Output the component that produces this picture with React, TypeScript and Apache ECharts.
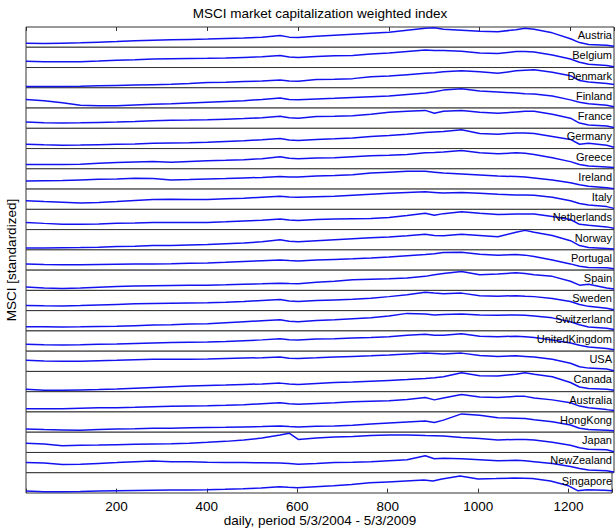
import React, { useEffect, useRef } from "react";
import * as echarts from "echarts";

const titleText = "MSCI market capitalization weighted index";
const xAxisTitle = "daily, period 5/3/2004 - 5/3/2009";
const yAxisTitle = "MSCI [standardized]";

const countries = [
  "Austria", "Belgium", "Denmark", "Finland", "France", "Germany", "Greece", "Ireland",
  "Italy", "Netherlands", "Norway", "Portugal", "Spain", "Sweden", "Switzerland",
  "UnitedKingdom", "USA", "Canada", "Australia", "HongKong", "Japan", "NewZealand", "Singapore",
];

const xTickLabels = [200, 400, 600, 800, 1000, 1200];
const X_MAX = 1296;

const days = [0, 40, 80, 120, 160, 200, 240, 280, 320, 360, 400, 440, 480, 520, 560, 580, 600, 640, 680, 720, 760, 800, 840, 880, 900, 920, 960, 1000, 1040, 1080, 1100, 1120, 1160, 1200, 1220, 1240, 1280, 1296];

const austria = [0.18,0.17,0.19,0.21,0.24,0.27,0.31,0.34,0.36,0.38,0.40,0.43,0.45,0.50,0.58,0.50,0.48,0.55,0.60,0.65,0.70,0.75,0.85,0.95,0.98,0.90,0.85,0.80,0.78,0.88,0.95,0.90,0.72,0.42,0.22,0.12,0.08,0.03];
const belgium = [0.30,0.28,0.27,0.28,0.31,0.35,0.38,0.42,0.43,0.44,0.45,0.47,0.50,0.53,0.60,0.52,0.50,0.55,0.58,0.60,0.68,0.72,0.80,0.88,0.85,0.85,0.82,0.72,0.70,0.80,0.80,0.78,0.62,0.42,0.25,0.15,0.08,0.02];
const denmark = [0.04,0.04,0.05,0.06,0.08,0.10,0.12,0.14,0.16,0.20,0.25,0.27,0.30,0.33,0.38,0.33,0.32,0.40,0.42,0.45,0.55,0.58,0.65,0.72,0.75,0.80,0.85,0.80,0.72,0.85,0.88,0.90,0.78,0.60,0.35,0.28,0.20,0.15];
const finland = [0.42,0.35,0.25,0.12,0.10,0.10,0.14,0.18,0.20,0.24,0.28,0.32,0.36,0.42,0.50,0.42,0.40,0.45,0.48,0.52,0.56,0.60,0.68,0.75,0.82,0.90,0.97,0.85,0.80,0.75,0.72,0.70,0.60,0.40,0.28,0.20,0.12,0.05];
const france = [0.30,0.27,0.25,0.26,0.28,0.30,0.33,0.37,0.39,0.40,0.42,0.45,0.48,0.52,0.60,0.52,0.50,0.58,0.60,0.63,0.70,0.80,0.85,0.90,0.75,0.85,0.90,0.80,0.75,0.82,0.85,0.85,0.70,0.50,0.25,0.15,0.10,0.02];
const germany = [0.20,0.17,0.15,0.16,0.18,0.20,0.22,0.25,0.27,0.28,0.30,0.34,0.38,0.43,0.50,0.42,0.40,0.45,0.48,0.52,0.60,0.65,0.72,0.80,0.83,0.85,0.95,0.75,0.72,0.78,0.78,0.75,0.60,0.45,0.20,0.25,0.15,0.05];
const greece = [0.20,0.20,0.20,0.22,0.26,0.30,0.33,0.35,0.32,0.36,0.40,0.42,0.45,0.50,0.60,0.52,0.50,0.53,0.55,0.60,0.65,0.68,0.72,0.80,0.82,0.85,0.92,0.80,0.75,0.80,0.78,0.72,0.55,0.35,0.20,0.12,0.08,0.05];
const ireland = [0.40,0.41,0.42,0.45,0.48,0.50,0.53,0.52,0.45,0.47,0.50,0.52,0.55,0.58,0.62,0.60,0.60,0.65,0.68,0.72,0.80,0.85,0.90,0.90,0.85,0.80,0.75,0.70,0.65,0.62,0.60,0.55,0.45,0.30,0.20,0.12,0.05,0.00];
const italy = [0.42,0.38,0.35,0.30,0.33,0.38,0.44,0.48,0.50,0.49,0.48,0.52,0.55,0.60,0.65,0.62,0.60,0.63,0.65,0.70,0.75,0.80,0.85,0.88,0.85,0.82,0.85,0.80,0.75,0.72,0.72,0.70,0.60,0.42,0.28,0.20,0.12,0.03];
const netherlands = [0.35,0.30,0.26,0.25,0.27,0.30,0.32,0.35,0.35,0.35,0.35,0.38,0.42,0.46,0.52,0.47,0.45,0.50,0.52,0.54,0.55,0.60,0.70,0.82,0.72,0.80,0.90,0.82,0.75,0.78,0.78,0.78,0.65,0.50,0.25,0.20,0.12,0.05];
const norway = [0.08,0.08,0.09,0.10,0.12,0.15,0.17,0.20,0.21,0.23,0.25,0.29,0.33,0.40,0.50,0.42,0.40,0.45,0.50,0.55,0.60,0.64,0.70,0.78,0.72,0.70,0.78,0.72,0.65,0.88,0.98,0.88,0.72,0.45,0.20,0.10,0.05,0.03];
const portugal = [0.30,0.27,0.25,0.26,0.27,0.28,0.29,0.30,0.31,0.33,0.35,0.38,0.42,0.46,0.50,0.47,0.45,0.50,0.53,0.56,0.60,0.65,0.72,0.78,0.82,0.88,0.90,0.80,0.75,0.78,0.75,0.68,0.50,0.30,0.18,0.12,0.10,0.05];
const spain = [0.15,0.10,0.08,0.10,0.14,0.18,0.20,0.22,0.23,0.24,0.25,0.27,0.30,0.32,0.35,0.33,0.32,0.40,0.45,0.52,0.55,0.58,0.62,0.70,0.78,0.85,0.95,0.78,0.82,0.88,0.85,0.78,0.70,0.45,0.25,0.30,0.10,0.05];
const sweden = [0.25,0.23,0.22,0.24,0.27,0.30,0.33,0.35,0.36,0.37,0.38,0.41,0.45,0.50,0.55,0.48,0.45,0.50,0.53,0.56,0.62,0.70,0.80,0.92,0.88,0.85,0.88,0.75,0.72,0.75,0.72,0.70,0.60,0.45,0.30,0.20,0.10,0.03];
const switzerland = [0.20,0.19,0.18,0.19,0.21,0.22,0.25,0.28,0.30,0.33,0.35,0.40,0.45,0.50,0.55,0.48,0.45,0.52,0.55,0.60,0.65,0.75,0.88,0.85,0.80,0.82,0.85,0.80,0.78,0.80,0.78,0.75,0.65,0.45,0.30,0.18,0.12,0.05];
const unitedKingdom = [0.33,0.31,0.30,0.31,0.33,0.35,0.38,0.40,0.42,0.44,0.45,0.48,0.52,0.56,0.62,0.57,0.55,0.60,0.62,0.65,0.68,0.72,0.80,0.85,0.80,0.80,0.88,0.75,0.72,0.75,0.72,0.68,0.55,0.40,0.28,0.20,0.12,0.05];
const usa = [0.55,0.52,0.50,0.50,0.53,0.55,0.58,0.60,0.60,0.60,0.62,0.65,0.67,0.68,0.72,0.66,0.65,0.68,0.72,0.75,0.78,0.82,0.88,0.92,0.90,0.88,0.92,0.80,0.75,0.78,0.75,0.72,0.60,0.40,0.22,0.15,0.10,0.02];
const canada = [0.10,0.06,0.05,0.07,0.09,0.12,0.16,0.20,0.24,0.27,0.30,0.32,0.35,0.38,0.42,0.37,0.35,0.40,0.45,0.48,0.52,0.56,0.60,0.66,0.70,0.75,0.95,0.80,0.78,0.88,0.95,0.88,0.75,0.45,0.22,0.15,0.10,0.05];
const australia = [0.15,0.15,0.15,0.17,0.19,0.20,0.22,0.25,0.27,0.29,0.30,0.32,0.35,0.40,0.45,0.40,0.38,0.42,0.45,0.50,0.53,0.56,0.62,0.72,0.60,0.70,0.88,0.75,0.72,0.78,0.78,0.70,0.60,0.45,0.28,0.20,0.10,0.05];
const hongKong = [0.15,0.12,0.10,0.08,0.12,0.15,0.16,0.18,0.19,0.21,0.22,0.23,0.25,0.27,0.30,0.27,0.25,0.28,0.30,0.34,0.40,0.45,0.50,0.55,0.48,0.60,0.92,0.85,0.72,0.70,0.68,0.62,0.52,0.35,0.18,0.12,0.08,0.05];
const japan = [0.45,0.42,0.32,0.35,0.36,0.38,0.40,0.42,0.43,0.46,0.50,0.55,0.62,0.72,0.88,0.97,0.65,0.72,0.78,0.80,0.85,0.88,0.88,0.85,0.84,0.82,0.75,0.70,0.62,0.65,0.65,0.62,0.50,0.35,0.22,0.15,0.12,0.02];
const newZealand = [0.50,0.48,0.40,0.42,0.46,0.50,0.55,0.58,0.55,0.54,0.52,0.51,0.50,0.49,0.48,0.45,0.42,0.45,0.50,0.52,0.55,0.60,0.65,0.85,0.70,0.72,0.70,0.65,0.60,0.62,0.60,0.55,0.45,0.30,0.20,0.12,0.08,0.02];
const singapore = [0.08,0.05,0.05,0.06,0.08,0.10,0.11,0.12,0.13,0.14,0.15,0.17,0.20,0.24,0.30,0.27,0.25,0.30,0.35,0.42,0.50,0.55,0.60,0.65,0.60,0.70,0.85,0.70,0.72,0.75,0.74,0.72,0.60,0.35,0.10,0.15,0.12,0.10];

const seriesValues = [
  austria, belgium, denmark, finland, france, germany, greece, ireland, italy, netherlands,
  norway, portugal, spain, sweden, switzerland, unitedKingdom, usa, canada, australia,
  hongKong, japan, newZealand, singapore,
];

const FONT = "'Liberation Sans', Arial, Helvetica, sans-serif";

export default function App() {
  const ref = useRef<HTMLDivElement>(null);
  useEffect(() => {
    if (!ref.current) return;
    const chart = echarts.init(ref.current, null, { renderer: "svg" });
    const W = 615;
    const H = 528;
    const left = 26;
    const right = 1;
    const top = 27;
    const bottom = 35;
    const n = countries.length;
    const ph = (H - top - bottom) / n;
    const borderColor = "#333333";

    const grids: any[] = countries.map((_, i) => ({
      left,
      right,
      top: top + i * ph,
      height: ph,
      show: true,
      borderColor,
      borderWidth: 1,
      backgroundColor: "#ffffff",
      containLabel: false,
    }));

    const xAxes: any[] = countries.map((_, i) => ({
      type: "value",
      gridIndex: i,
      min: 0,
      max: X_MAX,
      interval: 200,
      position: "bottom",
      axisLine: { show: false },
      axisTick: { show: i === n - 1, inside: true, length: 4, lineStyle: { color: borderColor } },
      axisLabel: {
        show: i === n - 1,
        margin: 6,
        color: "#000",
        fontSize: 13.5,
        fontFamily: FONT,
        formatter: (v: number) => (xTickLabels.indexOf(v) >= 0 ? String(v) : ""),
      },
      splitLine: { show: false },
    }));
    xAxes.push({
      type: "value",
      gridIndex: 0,
      min: 0,
      max: X_MAX,
      interval: 200,
      position: "top",
      axisLine: { show: false },
      axisTick: { show: true, inside: true, length: 4, lineStyle: { color: borderColor } },
      axisLabel: { show: false },
      splitLine: { show: false },
    });

    const yAxes: any[] = countries.map((_, i) => ({
      type: "value",
      gridIndex: i,
      min: -0.02,
      max: 1.02,
      show: false,
      splitLine: { show: false },
    }));

    const series: any[] = seriesValues.map((vals, i) => ({
      type: "line",
      name: countries[i],
      xAxisIndex: i,
      yAxisIndex: i,
      data: days.map((d, j) => [d, vals[j]]),
      showSymbol: false,
      symbol: "none",
      lineStyle: { color: "#1212f0", width: 1.5 },
      z: 3,
    }));

    const graphics: any[] = countries.map((c, i) => ({
      type: "text",
      x: W - 3,
      y: top + i * ph + 8,
      z: 10,
      style: {
        text: c,
        fill: "#000",
        font: `11px ${FONT}`,
        textAlign: "right",
        textVerticalAlign: "middle",
        align: "right",
        verticalAlign: "middle",
      },
    }));
    const plotCx = left + (W - left - right) / 2;
    graphics.push({
      type: "text",
      x: plotCx,
      y: 13,
      style: {
        text: titleText, fill: "#000", font: `13.5px ${FONT}`,
        textAlign: "center", textVerticalAlign: "middle", align: "center", verticalAlign: "middle",
      },
    });
    graphics.push({
      type: "text",
      x: plotCx,
      y: 520,
      style: {
        text: xAxisTitle, fill: "#000", font: `13.5px ${FONT}`,
        textAlign: "center", textVerticalAlign: "middle", align: "center", verticalAlign: "middle",
      },
    });
    graphics.push({
      type: "text",
      x: 11,
      y: top + (H - top - bottom) / 2,
      rotation: Math.PI / 2,
      style: {
        text: yAxisTitle, fill: "#000", font: `13.5px ${FONT}`,
        textAlign: "center", textVerticalAlign: "middle", align: "center", verticalAlign: "middle",
      },
    });

    chart.setOption({
      animation: false,
      backgroundColor: "#ffffff",
      grid: grids,
      xAxis: xAxes,
      yAxis: yAxes,
      series,
      graphic: graphics,
    });
    return () => chart.dispose();
  }, []);
  return (
    <div
      ref={ref}
      style={{ position: "absolute", left: 0, top: 0, width: 615, height: 528, background: "#fff" }}
    />
  );
}
